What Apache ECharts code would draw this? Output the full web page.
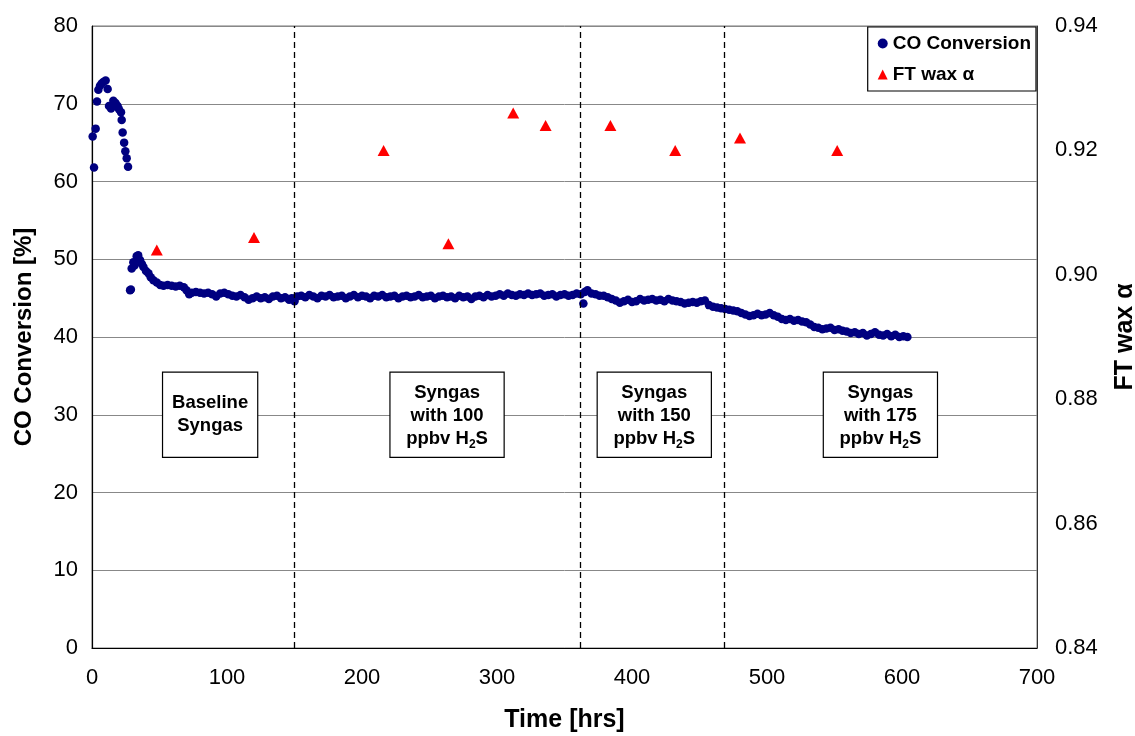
<!DOCTYPE html>
<html>
<head>
<meta charset="utf-8">
<script src="https://cdn.jsdelivr.net/npm/echarts@6/dist/echarts.min.js"></script>
<style>html,body{margin:0;padding:0;background:#fff}#c{width:1135px;height:736px}</style>
</head>
<body>
<div id="c"></div>
<script>
// CO conversion [%] vs time [hrs]
const coData = [
[0.5,65.8],[1.5,61.8],[2.7,66.8],[3.7,70.3],[4.7,71.8],[5.9,72.3],[7.2,72.6],[8.4,72.8],[10.1,73.0],[11.6,71.9],
[12.6,69.7],[14.1,69.4],[15.8,70.4],[17.4,70.1],[19.0,69.7],[20.0,69.3],[21.5,68.9],[22.0,67.9],[22.7,66.3],[23.8,65.0],
[24.7,63.9],[25.7,63.0],[26.7,61.9],[28.2,46.0],[28.8,46.1],[29.4,48.8],[30.6,49.6],[31.5,49.2],[33.1,50.4],[34.2,50.5],
[35.6,49.9],[37.0,49.4],[38.1,49.0],[40.0,48.5],[41.8,48.2],[43.5,47.7],[45.5,47.3],[48.0,47.0],[50.5,46.7],[53,46.6],
[56,46.7],[59,46.6],[62,46.5],[65,46.6],[68,46.4],[70,46.0],[72,45.5],[74,45.7],[77,45.8],[80,45.7],
[83,45.6],[86,45.7],[89,45.5],[92,45.2],[95,45.6],[98,45.7],[101,45.5],[104,45.3],[107,45.2],[110,45.4],
[113,45.1],[116,44.8],[119,45.0],[122,45.2],[125,45.0],[128,45.1],[131,44.9],[134,45.2],[137,45.3],[140,45.0],
[143,45.1],[146,44.8],[148,45.0],[150,44.6],[152,45.2],[155,45.3],[158,45.1],[161,45.4],[164,45.2],[167,45.0],
[170,45.3],[173,45.2],[176,45.4],[179,45.1],[182,45.2],[185,45.3],[188,45.0],[191,45.2],[194,45.4],[197,45.1],
[200,45.3],[203,45.2],[206,45.0],[209,45.3],[212,45.2],[215,45.4],[218,45.1],[221,45.2],[224,45.3],[227,45.0],
[230,45.2],[233,45.3],[236,45.1],[239,45.2],[242,45.4],[245,45.1],[248,45.2],[251,45.3],[254,45.0],[257,45.2],
[260,45.3],[263,45.1],[266,45.2],[269,45.0],[272,45.3],[275,45.1],[278,45.2],[281,44.9],[284,45.2],[287,45.3],
[290,45.1],[293,45.4],[296,45.2],[299,45.3],[302,45.5],[305,45.3],[308,45.6],[311,45.4],[314,45.3],[317,45.5],
[320,45.4],[323,45.6],[326,45.4],[329,45.5],[332,45.6],[335,45.3],[338,45.4],[341,45.5],[344,45.2],[347,45.4],
[350,45.5],[353,45.3],[356,45.4],[359,45.6],[362,45.5],[364,44.3],[365,45.8],[367,46.0],[370,45.6],[373,45.5],
[376,45.3],[379,45.3],[382,45.1],[385,44.9],[388,44.7],[391,44.4],[394,44.6],[397,44.8],[400,44.5],[403,44.6],
[406,44.9],[409,44.7],[412,44.8],[415,44.9],[418,44.7],[421,44.8],[424,44.6],[427,44.9],[430,44.7],[433,44.6],
[436,44.5],[439,44.3],[442,44.4],[445,44.5],[448,44.4],[451,44.6],[454,44.7],[457,44.1],[460,43.9],[463,43.8],
[466,43.7],[469,43.6],[472,43.5],[475,43.4],[478,43.3],[481,43.1],[484,42.9],[487,42.7],[490,42.8],[493,43.0],
[496,42.8],[499,42.9],[502,43.1],[505,42.8],[508,42.6],[511,42.3],[514,42.2],[517,42.3],[520,42.1],[523,42.2],
[526,42.0],[529,41.9],[532,41.6],[535,41.3],[538,41.2],[541,41.0],[544,41.1],[547,41.2],[550,40.9],[553,41.0],
[556,40.8],[559,40.7],[562,40.5],[565,40.6],[568,40.4],[571,40.5],[574,40.2],[577,40.4],[580,40.6],[583,40.3],
[586,40.2],[589,40.4],[592,40.1],[595,40.3],[598,40.0],[601,40.1],[604,40.0]
];
// FT wax alpha vs time [hrs]
const alphaData = [[48,0.904],[120,0.906],[216,0.920],[264,0.905],[312,0.926],[336,0.924],[384,0.924],[432,0.920],[480,0.922],[552,0.920]];
// Period boundaries [hrs]
const boundaries = [150, 362, 468];
// Period annotation boxes: [x hrs, y %, text]
const periodBoxes = [
  [87.5, 30, 'Baseline\nSyngas'],
  [263, 30, 'Syngas\nwith 100\nppbv H{sub|2}S'],
  [416.5, 30, 'Syngas\nwith 150\nppbv H{sub|2}S'],
  [584, 30, 'Syngas\nwith 175\nppbv H{sub|2}S']
];
const FONT = '"Liberation Sans", Arial, sans-serif';

const chart = echarts.init(document.getElementById('c'), null, {renderer: 'canvas'});
chart.setOption({
  animation: false,
  backgroundColor: '#fff',
  grid: {left: 92, right: 98, top: 26, bottom: 88, containLabel: false, outerBoundsMode: 'none',
         show: true, borderColor: '#777', borderWidth: 1},
  legend: {
    right: 99, top: 27, orient: 'vertical',
    backgroundColor: '#fff', borderColor: '#000', borderWidth: 1.2,
    padding: [7, 5, 7, 10], itemGap: 12,
    itemWidth: 10, itemHeight: 10,
    textStyle: {fontFamily: FONT, fontWeight: 'bold', fontSize: 19, color: '#000'},
    data: [{name: 'CO Conversion', icon: 'circle'}, {name: 'FT wax α', icon: 'triangle'}]
  },
  xAxis: {
    type: 'value', min: 0, max: 700, interval: 100,
    name: 'Time [hrs]', nameLocation: 'middle', nameGap: 60,
    nameTextStyle: {fontFamily: FONT, fontWeight: 'bold', fontSize: 25, color: '#000'},
    axisLine: {show: true, lineStyle: {color: '#000', width: 1.2}},
    axisTick: {show: false},
    splitLine: {show: false},
    axisLabel: {fontFamily: FONT, fontSize: 22, color: '#000', margin: 19}
  },
  yAxis: [{
    type: 'value', min: 0, max: 80, interval: 10,
    name: 'CO Conversion [%]', nameLocation: 'middle', nameGap: 56, nameRotate: 90,
    nameTextStyle: {fontFamily: FONT, fontWeight: 'bold', fontSize: 24, color: '#000'},
    axisLine: {show: true, lineStyle: {color: '#000', width: 1.2}},
    axisTick: {show: false},
    splitLine: {show: true, lineStyle: {color: '#888', width: 1}},
    axisLabel: {fontFamily: FONT, fontSize: 22, color: '#000', margin: 14}
  }, {
    type: 'value', min: 0.84, max: 0.94, interval: 0.02, position: 'right',
    name: 'FT wax α', nameLocation: 'middle', nameGap: 76, nameRotate: 90,
    nameTextStyle: {fontFamily: FONT, fontWeight: 'bold', fontSize: 25, color: '#000'},
    axisLine: {show: true, lineStyle: {color: '#333', width: 1}},
    axisTick: {show: false},
    splitLine: {show: false},
    axisLabel: {fontFamily: FONT, fontSize: 22, color: '#000', margin: 18,
      formatter: v => v.toFixed(2)}
  }],
  series: [{
    name: 'CO Conversion', type: 'scatter', yAxisIndex: 0,
    data: coData, symbol: 'circle', symbolSize: 8.5,
    itemStyle: {color: '#000080', opacity: 1},
    z: 3,
    markLine: {
      silent: true, symbol: 'none', label: {show: false},
      lineStyle: {color: '#000', type: [6, 4], width: 1.3},
      data: boundaries.map(b => ({xAxis: b}))
    },
    markPoint: {
      silent: true,
      symbol: 'rect', symbolSize: 1,
      itemStyle: {color: 'rgba(0,0,0,0)'},
      data: periodBoxes.map((p, i) => ({
        coord: [p[0], p[1]],
        label: {
          show: true, position: 'inside', formatter: p[2],
          backgroundColor: '#fff', borderColor: '#000', borderWidth: 1.2,
          width: i === 0 ? 72 : 91,
          padding: i === 0 ? [19, 11, 19, 11] : [9, 11, 6, 11],
          align: 'center',
          lineHeight: 23,
          fontFamily: FONT, fontWeight: 'bold', fontSize: 18.5, color: '#000',
          rich: {sub: {fontFamily: FONT, fontWeight: 'bold', fontSize: 12, color: '#000', verticalAlign: 'bottom', lineHeight: 18, padding: [8, 0, 0, 0]}}
        }
      }))
    }
  }, {
    name: 'FT wax α', type: 'scatter', yAxisIndex: 1,
    data: alphaData, symbol: 'triangle', symbolSize: [12, 11],
    itemStyle: {color: '#ff0000', opacity: 1},
    z: 4
  }]
});
</script>
</body>
</html>
